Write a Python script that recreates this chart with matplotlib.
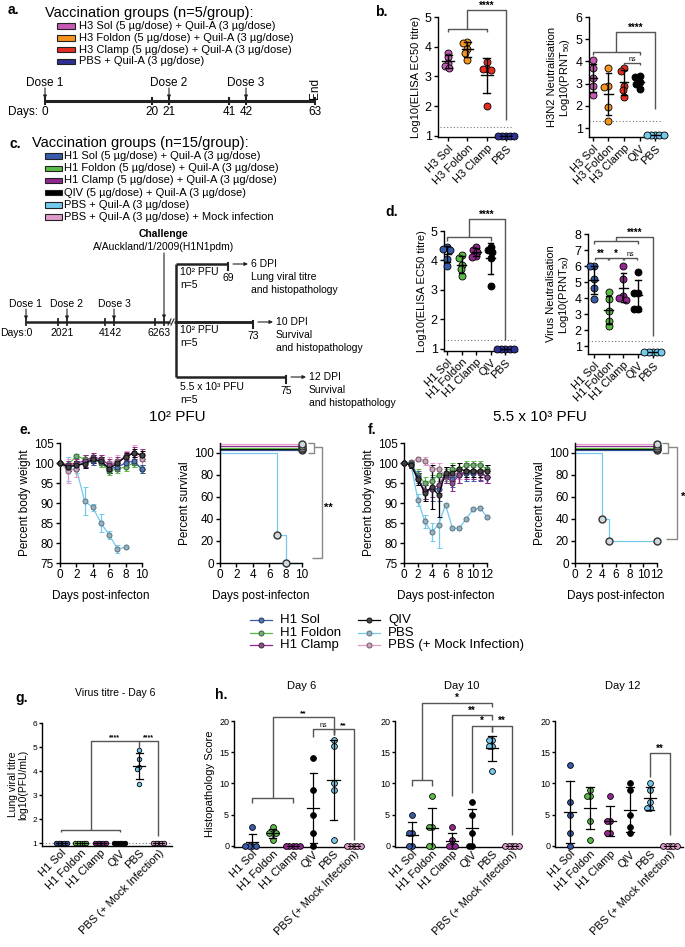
import numpy as np
import matplotlib
matplotlib.use('Agg')
import matplotlib.pyplot as plt
from matplotlib.patches import Rectangle

plt.rcParams['font.family'] = ['Liberation Sans', 'DejaVu Sans']
plt.rcParams['mathtext.fontset'] = 'custom'
plt.rcParams['mathtext.rm'] = 'Liberation Sans'
plt.rcParams['mathtext.it'] = 'Liberation Sans:italic'
plt.rcParams['mathtext.bf'] = 'Liberation Sans:bold'

# ------------------------------------------------------------------ data
h3_groups = ['H3 Sol', 'H3 Foldon', 'H3 Clamp', 'PBS']
h3_elisa = [[3.8, 3.65, 3.45, 3.35, 3.3],
            [4.15, 4.12, 3.92, 3.8, 3.55],
            [3.5, 3.25, 3.25, 3.22, 2.0],
            [1.0, 1.0, 1.0, 1.0, 1.0]]
h3n2_groups = ['H3 Sol', 'H3 Foldon', 'H3 Clamp', 'QIV', 'PBS']
h3n2_prnt = [[4.07, 3.69, 3.24, 2.89, 2.48],
             [3.7, 2.9, 2.85, 1.95, 1.3],
             [3.72, 3.57, 2.89, 2.71, 2.4],
             [3.34, 3.31, 3.08, 3.0, 2.74],
             [0.7, 0.7, 0.7, 0.7, 0.7]]
h1_groups = ['H1 Sol', 'H1 Foldon', 'H1 Clamp', 'QIV', 'PBS']
h1_elisa = [[4.45, 4.4, 4.35, 4.05, 3.8],
            [4.18, 4.07, 3.84, 3.7, 3.47],
            [4.45, 4.35, 4.3, 4.15, 4.12],
            [4.45, 4.35, 4.3, 4.1, 3.15],
            [1.0, 1.0, 1.0, 1.0, 1.0]]
h1_prnt = [[5.97, 5.97, 5.18, 4.62, 3.93],
           [4.35, 3.93, 3.16, 2.57, 2.22],
           [5.97, 5.18, 4.1, 4.0, 3.9],
           [5.6, 4.3, 4.3, 3.3, 3.3],
           [0.6, 0.6, 0.6, 0.6, 0.6]]
lod_elisa = 1.3
lod_prnt = 1.3

groups6 = ['H1 Sol', 'H1 Foldon', 'H1 Clamp', 'QIV', 'PBS', 'PBS (+ Mock Infection)']

days_e = [0, 1, 2, 3, 4, 5, 6, 7, 8, 9, 10]
wt_e_sol = [100, 99, 99.5, 100, 100.5, 100.5, 98.5, 99, 100, 100.5, 98.5]
wt_e_foldon = [100, 99.5, 101.8, 101, 101, 100, 98, 98.5, 99, 100, 98.5]
wt_e_clamp = [100, 99.5, 100, 100.5, 101.5, 101, 99.5, 100, 101.8, 102.5, 102]
wt_e_qiv = [100, 99, 99.5, 99.8, 101, 100.5, 98.5, 100, 101.5, 102.5, 102]
wt_e_pbs = [100, 98.5, 98.5, 90.5, 88.9, 85, 82, 78.6, 78.9]
wt_e_mock = [100, 98, 98.5, 100.5, 101, 100.5, 100, 100.5, 101.5, 102.5, 101]
err_e_sol = [0, 1, 1, 1, 1, 1, 1, 1, 1, 1, 1]
err_e_foldon = [0, 1, 0.5, 1, 1, 1, 1, 1, 1, 1, 1]
err_e_clamp = [0, 1, 1, 1.5, 1, 1, 1.5, 1.5, 1, 1.5, 1.5]
err_e_qiv = [0, 1, 1, 1, 1, 1, 1, 1, 1, 1, 1]
err_e_pbs = [0, 3, 1, 3.4, 0.9, 2.2, 1, 1, 0]
err_e_mock = [0, 3, 2, 1.5, 1.5, 1.5, 1.5, 1.5, 1.5, 2, 1.5]

days_f = [0, 1, 2, 3, 4, 5, 6, 7, 8, 9, 10, 11, 12]
wt_f_sol = [100, 99.8, 96.5, 93, 93.5, 93.5, 97, 96, 97, 97.5, 97.5, 97.8, 96.5]
wt_f_foldon = [100, 100, 97, 95, 95.5, 97, 97, 98.5, 98.5, 99.5, 99.5, 99.5, 98.5]
wt_f_clamp = [100, 99.5, 96, 93, 93.5, 94.5, 97, 95, 97, 98, 98, 97.5, 96.5]
wt_f_qiv = [100, 99.5, 96, 92.5, 94, 92, 97.5, 97.5, 98.5, 98, 98, 98, 98]
wt_f_pbs = [100, 99.8, 90.8, 85.4, 82.7, 84.6, 89.6, 83.7, 83.7, 86.1, 88.4, 88.8, 86.5]
wt_f_mock = [100, 100.2, 101, 100.6, 98.5, 98.6, 96.6, 97, 97.5, 97.5, 97.5, 97.8, 96.5]
err_f_sol = [0, 0.8, 1.5, 2, 3, 3, 2, 2, 2, 2, 2, 2, 1.5]
err_f_foldon = [0, 0.8, 1.5, 1.5, 1.5, 1.5, 1.5, 1.5, 1.5, 1, 1, 1, 1]
err_f_clamp = [0, 0.8, 1.5, 2, 2, 2, 2, 2, 2, 2, 2, 2, 1.5]
err_f_qiv = [0, 0.8, 1.5, 2, 5.5, 5.5, 1.5, 2, 1.5, 1.5, 1.5, 1.5, 1.5]
err_f_pbs = [0, 0.5, 1.5, 1.6, 2.3, 5.8, 0, 0, 0, 0, 0, 0, 0]
err_f_mock = [0, 0.5, 0.5, 1, 1.5, 1.5, 1.5, 1.5, 1.5, 1.5, 1.5, 1.5, 1.5]

surv_e_days_pbs = [0, 7, 8]
surv_e_pbs = [100, 25, 0]
surv_f_days_pbs = [0, 4, 5, 12]
surv_f_pbs = [100, 40, 20, 20]
surv_e_end = 10
surv_f_end = 12

titre_d6 = [[1, 1, 1, 1, 1], [1, 1, 1, 1, 1], [1, 1, 1, 1, 1], [1, 1, 1, 1, 1],
            [4.86, 4.49, 4.17, 4.1, 3.44], [1, 1, 1, 1, 1]]
lod_titre = 1.0

histo_d6 = [[3, 0, 0, 0, 0], [3, 2, 2, 2, 1], [0, 0, 0, 0, 0], [14, 9, 5, 2, 0],
            [17, 16, 10, 9, 1], [0, 0, 0, 0, 0]]
histo_d10 = [[5, 2, 2, 0, 0], [8, 3, 3, 0, 0], [3, 1, 0, 0, 0], [7, 5, 2, 0, 0],
             [17, 17, 16, 16, 12], [0, 0, 0, 0, 0]]
histo_d12 = [[13, 7, 5, 2, 0], [9, 8, 8, 4, 1], [8, 4, 4, 2, 2], [10, 9, 5, 3, 2],
             [10, 9, 7, 6, 6], [0, 0, 0, 0, 0]]

# ------------------------------------------------------------------ colours
c_h3sol, c_h3fold, c_h3clamp, c_pbs_a = '#C45AB3', '#F7941D', '#E42C20', '#2E3192'
c_sol, c_fold, c_clamp, c_qiv, c_pbs, c_mock = '#3A5BAA', '#5CBB46', '#92278F', '#000000', '#74C9EC', '#E19ACB'
cols6 = [c_sol, c_fold, c_clamp, c_qiv, c_pbs, c_mock]
GRAY = '#555555'

W, H = 685, 947
fig = plt.figure(figsize=(W / 100, H / 100), dpi=100)


def px_axes(x0, y0, x1, y1):
    return fig.add_axes([x0 / W, 1 - y1 / H, (x1 - x0) / W, (y1 - y0) / H])


ov = fig.add_axes([0, 0, 1, 1], zorder=-5)
ov.set_xlim(0, W)
ov.set_ylim(H, 0)
ov.axis('off')


def style(ax, fs=8):
    for s in ['top', 'right']:
        ax.spines[s].set_visible(False)
    for s in ['left', 'bottom']:
        ax.spines[s].set_linewidth(1.0)
    ax.tick_params(direction='out', length=3, width=1.0, labelsize=fs, pad=1.5)
    ax.patch.set_alpha(0)


def ppu(ax):
    pos = ax.get_position()
    xr = ax.get_xlim()
    yr = ax.get_ylim()
    return pos.width * W / (xr[1] - xr[0]), pos.height * H / (yr[1] - yr[0])


def swarm(vals, d, ppx, ppy):
    order = np.argsort(-np.asarray(vals))
    placed = []
    xs = np.zeros(len(vals))
    for idx in order:
        y = vals[idx] * ppy
        cands = [0.0]
        for (px, py) in placed:
            dy = y - py
            if abs(dy) < d:
                dx = np.sqrt(d * d - dy * dy)
                cands += [px + dx, px - dx]
        cands.sort(key=lambda c: (abs(c), c))
        for c in cands:
            if all((c - px) ** 2 + (y - py) ** 2 >= d * d * 0.999 for (px, py) in placed):
                placed.append((c, y))
                xs[idx] = c / ppx
                break
    return xs


def dotplot(ax, data, colors, ms=7, mean_w=0.3, cap_w=0.18, lw=1.0, pack=0.6):
    # ms: marker diameter in pixels
    ppx, ppy = ppu(ax)
    for i, (vals, c) in enumerate(zip(data, colors)):
        vals = np.asarray(vals, float)
        xs = swarm(vals, ms * pack, ppx, ppy)
        ax.scatter(i + xs, vals, s=(ms / 1.389) ** 2, c=c,
                   edgecolors='k', linewidths=0.6, zorder=3, clip_on=False)
        m = vals.mean()
        s = vals.std(ddof=1)
        if s > 0:
            ax.plot([i, i], [m - s, m + s], color='k', lw=lw, zorder=4)
            for e in (m - s, m + s):
                ax.plot([i - cap_w, i + cap_w], [e, e], color='k', lw=lw, zorder=4)
        ax.plot([i - mean_w, i + mean_w], [m, m], color='k', lw=lw, zorder=4)


def seg(ax, xs, ys, lw=1.0, color=GRAY):
    ax.plot(xs, ys, color=color, lw=lw, clip_on=False, zorder=5, solid_capstyle='butt')


def star(ax, x, y, t, fs=7, bold=True):
    ax.text(x, y, t, ha='center', va='baseline', fontsize=fs, fontweight='bold' if bold else 'normal',
            clip_on=False)


def cat_axis(ax, labels, fs=8):
    ax.set_xticks(range(len(labels)))
    ax.set_xticklabels(labels, rotation=45, ha='right', va='top', rotation_mode='anchor', fontsize=fs)


# ------------------------------------------------------------------ panel a
ov.text(8, 10, 'a.', fontsize=10, fontweight='bold', va='center')
ov.text(45, 13, 'Vaccination groups (n=5/group):', fontsize=10.5, va='center')
a_items = ['H3 Sol (5 µg/dose) + Quil-A (3 µg/dose)', 'H3 Foldon (5 µg/dose) + Quil-A (3 µg/dose)',
           'H3 Clamp (5 µg/dose) + Quil-A (3 µg/dose)', 'PBS + Quil-A (3 µg/dose)']
for k, (t, c) in enumerate(zip(a_items, [c_h3sol, c_h3fold, c_h3clamp, c_pbs_a])):
    y = 26 + k * 11.8
    ov.add_patch(Rectangle((57, y - 2.7), 18, 5.4, facecolor=c, edgecolor='#222222', lw=0.8))
    ov.text(79, y, t, fontsize=8, va='center')
ov.plot([45, 315], [101, 101], color='#222222', lw=2.2, solid_capstyle='butt')
for x, lab in [(45, '0'), (152, '20'), (169, '21'), (229, '41'), (246, '42'), (315, '63')]:
    ov.plot([x, x], [98, 104], color='#222222', lw=1.5)
    ov.text(x, 112, lab, ha='center', va='center', fontsize=8.5)
ov.text(8, 112, 'Days:', ha='left', va='center', fontsize=8.5)
for x, lab in [(45, 'Dose 1'), (169, 'Dose 2'), (246, 'Dose 3')]:
    ov.text(x, 83, lab, ha='center', va='center', fontsize=8.5)
    ov.annotate('', xy=(x, 99), xytext=(x, 88), arrowprops=dict(arrowstyle='-|>', lw=0.8, color='#222222',
                                                                    mutation_scale=5, shrinkA=0, shrinkB=0))
ov.text(315, 88, 'End', rotation=90, ha='center', va='center', fontsize=8.5)

# ------------------------------------------------------------------ panel c
ov.text(10, 144, 'c.', fontsize=10, fontweight='bold', va='center')
ov.text(32, 143, 'Vaccination groups (n=15/group):', fontsize=10.5, va='center')
c_items = ['H1 Sol (5 µg/dose) + Quil-A (3 µg/dose)', 'H1 Foldon (5 µg/dose) + Quil-A (3 µg/dose)',
           'H1 Clamp (5 µg/dose) + Quil-A (3 µg/dose)', 'QIV (5 µg/dose) + Quil-A (3 µg/dose)',
           'PBS + Quil-A (3 µg/dose)', 'PBS + Quil-A (3 µg/dose) + Mock infection']
for k, (t, c) in enumerate(zip(c_items, cols6)):
    y = 156 + k * 12.2
    ov.add_patch(Rectangle((45, y - 2.7), 17, 5.4, facecolor=c, edgecolor='#222222', lw=0.8))
    ov.text(64, y, t, fontsize=8, va='center')
ov.text(164, 234, 'Challenge', ha='center', va='center', fontsize=7.5, fontweight='bold')
ov.text(164, 247, 'A/Auckland/1/2009(H1N1pdm)', ha='center', va='center', fontsize=7.5)
ov.annotate('', xy=(164, 319), xytext=(164, 253), arrowprops=dict(arrowstyle='-|>', lw=0.8, color='#222222',
                                                                  mutation_scale=5, shrinkA=0, shrinkB=0))
ov.plot([26, 170], [322, 322], color='#222222', lw=1.8, solid_capstyle='butt')
for x in [26, 58, 67, 105, 114, 155, 164]:
    ov.plot([x, x], [319, 325], color='#222222', lw=1.3)
ov.plot([168, 171], [325, 319], color='#222222', lw=0.8)
ov.plot([171, 174], [325, 319], color='#222222', lw=0.8)
ov.text(0, 333, 'Days:0', ha='left', va='center', fontsize=7.5)
for x, lab in [(62, '2021'), (110, '4142'), (159, '6263')]:
    ov.text(x, 333, lab, ha='center', va='center', fontsize=7.5)
for x, lab in [(26, 'Dose 1'), (67, 'Dose 2'), (114, 'Dose 3')]:
    ov.text(x, 304, lab, ha='center', va='center', fontsize=7.5)
    ov.annotate('', xy=(x, 320), xytext=(x, 309), arrowprops=dict(arrowstyle='-|>', lw=0.8, color='#222222',
                                                                    mutation_scale=5, shrinkA=0, shrinkB=0))
ov.plot([176, 176], [264, 377], color='#222222', lw=1.8, solid_capstyle='butt')
ov.plot([174, 253], [322, 322], color='#222222', lw=1.8, solid_capstyle='butt')
for yb, xe, dlab, n1, n2, n3, lab1, ylab in [(264, 228, '69', '6 DPI', 'Lung viral titre', 'and histopathology', '10² PFU', 272),
                                              (322, 253, '73', '10 DPI', 'Survival', 'and histopathology', '10² PFU', 330),
                                              (377, 286, '75', '12 DPI', 'Survival', 'and histopathology', '5.5 x 10³ PFU', 387)]:
    ov.plot([176, xe], [yb, yb], color='#222222', lw=1.8, solid_capstyle='butt')
    ov.plot([xe, xe], [yb - 1, yb + 6], color='#222222', lw=1.5)
    ov.text(xe, yb + 14, dlab, ha='center', va='center', fontsize=7.5)
    ov.annotate('', xy=(xe + 20, yb), xytext=(xe + 5, yb), arrowprops=dict(arrowstyle='-|>', lw=0.8, color='#222222',
                                                                            mutation_scale=5, shrinkA=0, shrinkB=0))
    ov.text(xe + 23, yb, n1, ha='left', va='center', fontsize=7.5)
    ov.text(xe + 23, yb + 13, n2, ha='left', va='center', fontsize=7.5)
    ov.text(xe + 23, yb + 26, n3, ha='left', va='center', fontsize=7.5)
    ov.text(180, ylab, lab1, ha='left', va='center', fontsize=7.5)
    ov.text(180, ylab + 13, 'n=5', ha='left', va='center', fontsize=7.5)

# ------------------------------------------------------------------ panel b
ov.text(375, 12, 'b.', fontsize=10, fontweight='bold', va='center')
ax = px_axes(438, 17, 513, 137)
ax.set_xlim(-0.52, 3.36)
ax.set_ylim(0.966, 5)
style(ax, 9)
ax.set_yticks([1, 2, 3, 4, 5])
cat_axis(ax, h3_groups, 8)
ax.axhline(lod_elisa, color='#777777', lw=0.8, ls=(0, (1, 2)), xmin=0.03, xmax=1)
dotplot(ax, h3_elisa, [c_h3sol, c_h3fold, c_h3clamp, c_pbs_a], ms=7)
ax.set_ylabel('Log10(ELISA EC50 titre)', fontsize=8, labelpad=3)
seg(ax, [0, 0, 2, 2], [4.5, 4.6, 4.6, 4.5])
seg(ax, [1, 1, 3, 3], [4.6, 5.25, 5.25, 1.55])
star(ax, 2, 5.28, '****', 7)

ax = px_axes(589, 17, 663, 137)
ax.set_xlim(-0.25, 4.5)
ax.set_ylim(0.6, 6)
style(ax, 9)
ax.set_yticks([1, 2, 3, 4, 5, 6])
cat_axis(ax, h3n2_groups, 8)
ax.axhline(lod_prnt, color='#777777', lw=0.8, ls=(0, (1, 2)))
dotplot(ax, h3n2_prnt, [c_h3sol, c_h3fold, c_h3clamp, c_qiv, c_pbs], ms=7, mean_w=0.28)
ax.set_ylabel('H3N2 Neutralisation\nLog10(PRNT$_{50}$)', fontsize=8, labelpad=3, linespacing=1.1)
seg(ax, [0, 0, 3, 3], [4.3, 4.44, 4.44, 4.3])
seg(ax, [1.5, 1.5, 4, 4], [4.44, 5.32, 5.32, 1.85])
star(ax, 2.75, 5.36, '****', 7)
seg(ax, [2, 2, 3, 3], [3.82, 3.95, 3.95, 3.82])
star(ax, 2.5, 4.02, 'ns', 5, bold=False)

# ------------------------------------------------------------------ panel d
ov.text(385, 212, 'd.', fontsize=10, fontweight='bold', va='center')
ax = px_axes(444, 231, 517, 351)
ax.set_xlim(-0.2, 4.8)
ax.set_ylim(0.93, 5)
style(ax, 9)
ax.set_yticks([1, 2, 3, 4, 5])
cat_axis(ax, h1_groups, 8)
ax.axhline(lod_elisa, color='#777777', lw=0.8, ls=(0, (1, 2)))
dotplot(ax, h1_elisa, [c_sol, c_fold, c_clamp, c_qiv, c_pbs_a], ms=7, mean_w=0.3)
ax.set_ylabel('Log10(ELISA EC50 titre)', fontsize=8, labelpad=3)
seg(ax, [0, 0, 3, 3], [4.65, 4.78, 4.78, 4.65])
seg(ax, [1.5, 1.5, 4, 4], [4.78, 5.42, 5.42, 1.3])
star(ax, 2.75, 5.46, '****', 7)

ax = px_axes(588, 234, 663, 354)
ax.set_xlim(-0.4, 4.7)
ax.set_ylim(0.5, 8)
style(ax, 9)
ax.set_yticks([1, 2, 3, 4, 5, 6, 7, 8])
cat_axis(ax, h1_groups, 8)
ax.axhline(lod_prnt, color='#777777', lw=0.8, ls=(0, (1, 2)))
dotplot(ax, h1_prnt, [c_sol, c_fold, c_clamp, c_qiv, c_pbs], ms=7, mean_w=0.3)
ax.set_ylabel('Virus Neutralisation\nLog10(PRNT$_{50}$)', fontsize=8, labelpad=3, linespacing=1.1)
seg(ax, [0, 0, 3, 3], [7.35, 7.55, 7.55, 7.35])
seg(ax, [1.5, 1.5, 4, 4], [7.55, 7.8, 7.8, 1.6])
star(ax, 2.75, 7.88, '****', 7)
for x1, x2, t in [(0, 1, '**'), (1, 2, '*'), (2, 3, 'ns')]:
    seg(ax, [x1 + 0.05, x1 + 0.05, x2 - 0.05, x2 - 0.05], [6.35, 6.5, 6.5, 6.35])
    star(ax, (x1 + x2) / 2, 6.6, t, 7 if t != 'ns' else 5, bold=(t != 'ns'))

# ------------------------------------------------------------------ panels e, f
ov.text(177, 417, '10² PFU', ha='center', va='center', fontsize=11)
ov.text(540, 417, '5.5 x 10³ PFU', ha='center', va='center', fontsize=11)
ov.text(20, 430, 'e.', fontsize=10, fontweight='bold', va='center')
ov.text(368, 430, 'f.', fontsize=10, fontweight='bold', va='center')

wt_sets_e = [(wt_e_sol, err_e_sol), (wt_e_foldon, err_e_foldon), (wt_e_clamp, err_e_clamp),
             (wt_e_qiv, err_e_qiv), (wt_e_pbs, err_e_pbs), (wt_e_mock, err_e_mock)]
wt_sets_f = [(wt_f_sol, err_f_sol), (wt_f_foldon, err_f_foldon), (wt_f_clamp, err_f_clamp),
             (wt_f_qiv, err_f_qiv), (wt_f_pbs, err_f_pbs), (wt_f_mock, err_f_mock)]
draw_order = [5, 4, 1, 0, 2, 3]
mfc6 = ['#5577aa', '#77aa77', '#885588', '#444444', '#9ab0bb', '#c9a9bf']
mec6 = ['#223366', '#336633', '#442244', '#111111', '#557788', '#775566']

for box, days, sets, xmax in [((60, 443, 142, 563), days_e, wt_sets_e, 10),
                               ((404, 443, 487, 563), days_f, wt_sets_f, 12)]:
    ax = px_axes(*box)
    style(ax, 8.5)
    ax.set_xlim(0, xmax)
    ax.set_ylim(75, 105)
    ax.set_yticks([75, 80, 85, 90, 95, 100, 105])
    ax.set_xticks(range(0, xmax + 1, 2))
    for k in draw_order:
        m, e = sets[k]
        d = days[:len(m)]
        ax.errorbar(d, m, yerr=e, color=cols6[k], lw=0.9, elinewidth=0.9, capsize=1.8, capthick=0.9,
                    marker='o', ms=3.6, mfc=mfc6[k], mec=mec6[k], mew=0.7, zorder=3 if k != 4 else 2,
                    clip_on=False)
    ax.set_xlabel('Days post-infecton', fontsize=8.5, labelpad=6)
    ax.set_ylabel('Percent body weight', fontsize=8.5, labelpad=2)

surv_offsets = [2.5, 4.5, 6.5, 3.5, 0, 8.5]
for box, pdays, psurv, end, br in [((220, 443, 302, 563), surv_e_days_pbs, surv_e_pbs, surv_e_end,
                                    (10.7, 11.5, 12.4, 4.5, '**', 13.2, 50)),
                                   ((575, 443, 657, 563), surv_f_days_pbs, surv_f_pbs, surv_f_end,
                                    (12.7, 13.6, 14.9, 22, '*', 15.8, 60))]:
    ax = px_axes(*box)
    style(ax, 8.5)
    ax.set_xlim(0, end)
    ax.set_ylim(0, 109)
    ax.set_yticks([0, 20, 40, 60, 80, 100])
    ax.set_xticks(range(0, end + 1, 2))
    for k in [4, 0, 3, 1, 2, 5]:
        off = surv_offsets[k]
        if k == 4:
            xs = list(pdays) + [end] if pdays[-1] != end else list(pdays)
            ys = list(psurv) + [psurv[-1]] if pdays[-1] != end else list(psurv)
            ax.step(xs, ys, where='post', color=cols6[k], lw=0.9, clip_on=False, zorder=2)
            ax.plot(pdays[1:], psurv[1:], 'o', ms=5, mfc='#cfd8dc', mec='#333333', mew=1.0, zorder=4,
                    clip_on=False)
        else:
            ax.plot([0, end], [100 + off, 100 + off], color=cols6[k], lw=0.9, zorder=2, clip_on=False)
            ax.plot([end], [100 + off], 'o', ms=5, mfc='#cfd8dc', mec='#333333', mew=1.0, zorder=4,
                    clip_on=False)
    x1, x2, x3, ylow, t, xt, yt = br
    seg(ax, [x1, x2, x2, x1], [109, 109, 100, 100], lw=1.0, color='#888888')
    seg(ax, [x2, x3, x3, x2 - 0.3], [105, 105, ylow, ylow], lw=1.0, color='#888888')
    ax.text(xt, yt, t, ha='center', va='center', fontsize=8, fontweight='bold', clip_on=False)
    ax.set_xlabel('Days post-infecton', fontsize=8.5, labelpad=6)
    ax.set_ylabel('Percent survival', fontsize=8.5, labelpad=2)

# legend (e/f)
for k in range(6):
    col = k // 3
    row = k % 3
    x0 = 250 if col == 0 else 358
    y = 620 + row * 12.6
    ov.plot([x0, x0 + 22], [y, y], color=cols6[k], lw=0.9)
    ov.plot([x0 + 11], [y], 'o', ms=3.6, mfc=mfc6[k], mec=mec6[k], mew=0.7)
    ov.text(x0 + 30, y, groups6[k], fontsize=9.5, va='center')

# ------------------------------------------------------------------ panel g
ov.text(15, 698, 'g.', fontsize=10, fontweight='bold', va='center')
ov.text(115, 693, 'Virus titre - Day 6', ha='center', va='center', fontsize=7.5)
ax = px_axes(42, 723, 172, 846)
ax.set_xlim(-1.0, 5.7)
ax.set_ylim(0.875, 6)
style(ax, 6)
ax.tick_params(length=2)
ax.set_yticks([1, 2, 3, 4, 5, 6])
cat_axis(ax, groups6, 8)
ax.tick_params(axis='x', length=0)
ax.axhline(lod_titre, color='#777777', lw=0.8, ls=(0, (1, 2)))
dotplot(ax, titre_d6, cols6, ms=4.5, mean_w=0.3, cap_w=0.18, lw=0.9)
ax.set_ylabel('Lung viral titre\nlog10(PFU/mL)', fontsize=7.5, labelpad=3, linespacing=1.0)
seg(ax, [0, 0, 3, 3], [1.45, 1.55, 1.55, 1.45])
seg(ax, [1.5, 1.5, 4, 4], [1.55, 5.25, 5.25, 4.95])
seg(ax, [4, 5, 5], [5.25, 5.25, 1.3])
star(ax, 2.75, 5.33, '****', 5)
star(ax, 4.5, 5.33, '****', 5)

# ------------------------------------------------------------------ panel h
ov.text(215, 695, 'h.', fontsize=10, fontweight='bold', va='center')
hboxes = [(234, 721, 362, 847, -0.9, 5.4), (395, 721, 520, 847, -0.85, 5.4), (555, 721, 683, 847, -0.75, 5.65)]
htitles = ['Day 6', 'Day 10', 'Day 12']
hdata = [histo_d6, histo_d10, histo_d12]
haxes = []
for (x0, y0, x1, y1, xl, xr), t, dat in zip(hboxes, htitles, hdata):
    ax = px_axes(x0, y0, x1, y1)
    ax.set_xlim(xl, xr)
    ax.set_ylim(-0.2, 20)
    style(ax, 6.5)
    ax.tick_params(length=2)
    ax.set_yticks([0, 5, 10, 15, 20])
    cat_axis(ax, groups6, 8)
    ax.tick_params(axis='x', length=0)
    dotplot(ax, dat, cols6, ms=5.8, mean_w=0.3, cap_w=0.18, lw=0.9)
    ov.text((x0 + x1) / 2 + 4, 686, t, ha='center', va='center', fontsize=8)
    haxes.append(ax)
haxes[0].set_ylabel('Histopathology Score', fontsize=8, labelpad=3)

ax = haxes[0]
seg(ax, [0, 0, 2, 2], [6.9, 7.6, 7.6, 6.9])
seg(ax, [1, 1, 4, 4], [7.6, 20.6, 20.6, 18.0])
star(ax, 2.5, 20.9, '**', 6)
seg(ax, [3, 3, 4, 4], [17.5, 18.7, 18.7, 17.8])
star(ax, 3.5, 19.0, 'ns', 5, bold=False)
seg(ax, [4, 4, 5, 5], [17.8, 18.7, 18.7, 1.0])
star(ax, 4.5, 19.0, '**', 6)

ax = haxes[1]
seg(ax, [0, 0, 1, 1], [9.5, 10.6, 10.6, 9.5])
seg(ax, [0.5, 0.5, 4, 4], [10.6, 22.9, 22.9, 22.2])
star(ax, 2.25, 23.2, '*', 7)
seg(ax, [2, 2, 4, 4], [8.0, 20.9, 20.9, 20.2])
star(ax, 3.0, 21.2, '**', 7)
seg(ax, [3, 3, 4, 4], [8.5, 19.2, 19.2, 18.3])
star(ax, 3.5, 19.5, '*', 7)
seg(ax, [4, 4, 5, 5], [18.3, 19.2, 19.2, 1.8])
star(ax, 4.5, 19.5, '**', 7)

ax = haxes[2]
seg(ax, [4, 4, 5, 5], [11.0, 14.8, 14.8, 1.8])
star(ax, 4.5, 15.1, '**', 7)

fig.savefig('out.png', dpi=100)
